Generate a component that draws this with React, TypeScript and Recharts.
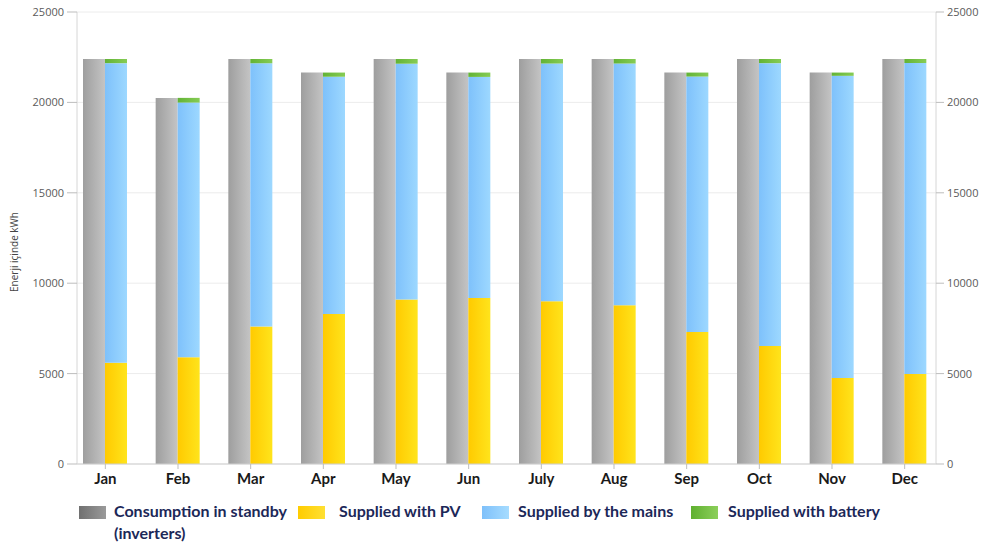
import React from 'react';
import { BarChart, Bar, XAxis, YAxis, CartesianGrid } from 'recharts';

const months = ['Jan', 'Feb', 'Mar', 'Apr', 'May', 'Jun', 'July', 'Aug', 'Sep', 'Oct', 'Nov', 'Dec'];
const standby = [22400, 20250, 22400, 21650, 22400, 21650, 22400, 22400, 21650, 22400, 21650, 22400];
const pv = [5600, 5900, 7600, 8300, 9100, 9180, 9000, 8780, 7300, 6520, 4750, 4980];
const battery = [230, 260, 240, 230, 260, 240, 250, 250, 220, 230, 180, 220];
const yTicks = [0, 5000, 10000, 15000, 20000, 25000];

const data = months.map((m, i) => ({
  month: m,
  standby: standby[i],
  pv: pv[i],
  mains: standby[i] - pv[i] - battery[i],
  battery: battery[i],
}));

const legendItems = [
  { label: 'Consumption in standby', sub: '(inverters)', from: '#707070', to: '#9a9a9a', left: 79, textLeft: 114 },
  { label: 'Supplied with PV', from: '#ffcc00', to: '#ffe033', left: 298, textLeft: 339 },
  { label: 'Supplied by the mains', from: '#7ec0fa', to: '#a6dcff', left: 482, textLeft: 518 },
  { label: 'Supplied with battery', from: '#5fb030', to: '#8ccf5a', left: 691, textLeft: 728 },
];

const tickStyle = { fontSize: 11, fill: '#5a5a5a', fontFamily: 'Open Sans' };

export default function App() {
  return (
    <div style={{ position: 'absolute', left: 0, top: 0, width: 986, height: 546, background: '#fff' }}>
      <BarChart
        width={986}
        height={500}
        data={data}
        margin={{ top: 12, right: 0, bottom: 6, left: 27 }}
        barGap={0}
        barSize={22}
      >
        <defs>
          <linearGradient id="gGray" x1="0" y1="0" x2="1" y2="0">
            <stop offset="0%" stopColor="#9e9e9e" />
            <stop offset="100%" stopColor="#c4c4c4" />
          </linearGradient>
          <linearGradient id="gYellow" x1="0" y1="0" x2="1" y2="0">
            <stop offset="0%" stopColor="#ffca00" />
            <stop offset="100%" stopColor="#ffe41c" />
          </linearGradient>
          <linearGradient id="gBlue" x1="0" y1="0" x2="1" y2="0">
            <stop offset="0%" stopColor="#7ec1fb" />
            <stop offset="100%" stopColor="#9dd8ff" />
          </linearGradient>
          <linearGradient id="gGreen" x1="0" y1="0" x2="1" y2="0">
            <stop offset="0%" stopColor="#62b335" />
            <stop offset="100%" stopColor="#86cc55" />
          </linearGradient>
        </defs>
        <CartesianGrid yAxisId="left" vertical={false} stroke="#ececec" />
        <XAxis
          dataKey="month"
          padding={{ left: -8, right: -5 }}
          axisLine={{ stroke: '#cfcfcf' }}
          tickLine={{ stroke: '#bdbdbd' }}
          tickSize={5}
          tickMargin={4}
          height={30}
          interval={0}
          tick={{ fontSize: 15, fontWeight: 700, fill: '#1a1a1a', fontFamily: 'Lato' }}
        />
        <YAxis
          yAxisId="left"
          domain={[0, 25000]}
          ticks={yTicks}
          width={50}
          axisLine={{ stroke: '#d6d6d6' }}
          tickLine={{ stroke: '#bdbdbd' }}
          tickSize={10}
          tickMargin={3}
          tick={tickStyle}
          label={{
            content: () => (
              <text
                x={18}
                y={252}
                transform="rotate(-90, 18, 252)"
                textAnchor="middle"
                fontSize={10}
                fill="#444"
                fontFamily="Open Sans"
              >
                Enerji içinde kWh
              </text>
            ),
          }}
        />
        <YAxis
          yAxisId="right"
          orientation="right"
          domain={[0, 25000]}
          ticks={yTicks}
          width={50}
          axisLine={{ stroke: '#d6d6d6' }}
          tickLine={{ stroke: '#bdbdbd' }}
          tickSize={8}
          tickMargin={3}
          tick={tickStyle}
        />
        <Bar yAxisId="right" dataKey="standby" stackId="a" fill="url(#gGray)" isAnimationActive={false} />
        <Bar yAxisId="left" dataKey="pv" stackId="s" fill="url(#gYellow)" isAnimationActive={false} />
        <Bar yAxisId="left" dataKey="mains" stackId="s" fill="url(#gBlue)" isAnimationActive={false} />
        <Bar yAxisId="left" dataKey="battery" stackId="s" fill="url(#gGreen)" isAnimationActive={false} />
      </BarChart>
      {legendItems.map((it) => (
        <React.Fragment key={it.label}>
          <div
            style={{
              position: 'absolute',
              left: it.left,
              top: 506,
              width: 27,
              height: 13,
              background: `linear-gradient(to right, ${it.from}, ${it.to})`,
            }}
          />
          <div
            style={{
              position: 'absolute',
              left: it.textLeft,
              top: 500,
              fontFamily: 'Lato',
              fontWeight: 700,
              fontSize: 16,
              lineHeight: '22px',
              color: '#1c2858',
              whiteSpace: 'nowrap',
            }}
          >
            {it.label}
            {it.sub ? <br /> : null}
            {it.sub}
          </div>
        </React.Fragment>
      ))}
    </div>
  );
}
